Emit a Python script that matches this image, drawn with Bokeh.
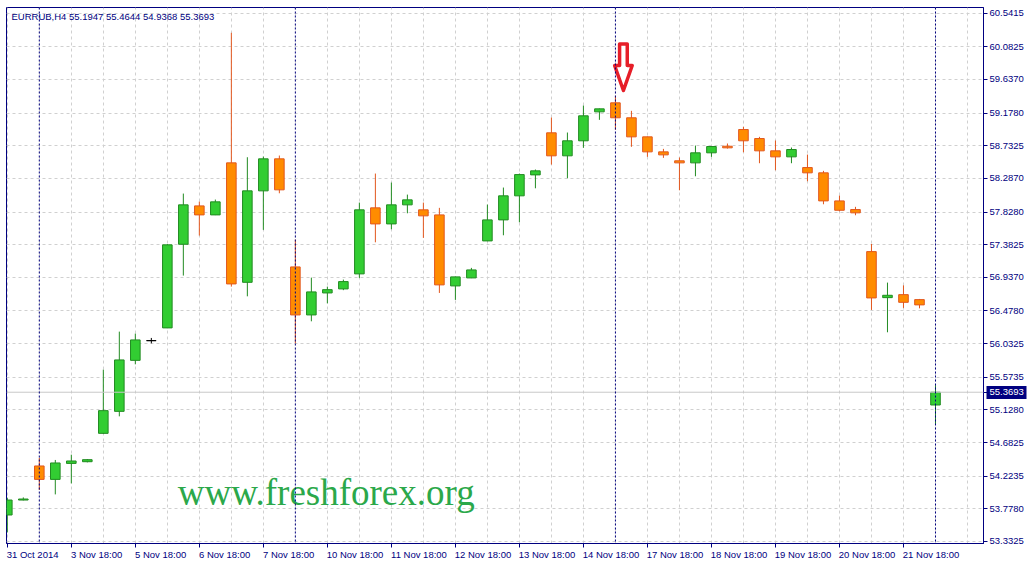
from bokeh.plotting import figure
from bokeh.models import (Range1d, FixedTicker, Span, ColumnDataSource,
                          PrintfTickFormatter, LinearAxis)
from bokeh.embed import file_html
from bokeh.resources import INLINE
from bokeh.core.properties import value

# ---- data (EURRUB, H4) ----
opens = [53.694, 53.898, 54.363, 54.180, 54.398, 54.421, 54.808, 55.108, 55.804, 56.073,
         56.247, 57.388, 57.912, 57.789, 58.499, 56.869, 58.117, 58.554, 57.079, 56.424,
         56.724, 56.779, 56.984, 57.885, 57.666, 57.926, 57.858, 57.789, 56.820, 56.929,
         57.434, 57.721, 58.049, 58.335, 58.909, 58.595, 58.800, 59.195, 59.318, 59.114,
         58.854, 58.649, 58.527, 58.499, 58.636, 58.726, 58.954, 58.831, 58.663, 58.581,
         58.435, 58.363, 57.980, 57.862, 57.288, 56.660, 56.701, 56.633, 55.1947]
highs = [53.930, 53.934, 54.472, 54.445, 54.517, 54.458, 55.677, 56.196, 56.169, 56.110,
         57.391, 58.080, 57.971, 57.998, 60.274, 58.576, 58.585, 58.599, 57.452, 56.933,
         56.810, 56.906, 57.957, 58.353, 58.230, 58.066, 57.957, 57.885, 56.947, 57.066,
         57.930, 58.162, 58.353, 58.408, 59.118, 58.913, 59.281, 59.240, 59.414, 59.209,
         58.858, 58.690, 58.572, 58.735, 58.725, 58.763, 58.991, 58.854, 58.804, 58.708,
         58.612, 58.390, 58.053, 57.899, 57.393, 56.865, 56.828, 56.642, 55.4644]
lows = [53.456, 53.893, 54.035, 53.975, 54.125, 54.412, 54.804, 55.040, 55.750, 56.036,
        56.244, 56.961, 57.507, 57.786, 56.810, 56.678, 57.585, 58.084, 56.036, 56.337,
        56.582, 56.762, 56.929, 57.415, 57.593, 57.811, 57.475, 56.724, 56.629, 56.926,
        57.431, 57.511, 57.688, 58.152, 58.476, 58.289, 58.704, 59.086, 58.950, 58.718,
        58.581, 58.567, 58.125, 58.316, 58.581, 58.694, 58.644, 58.494, 58.398, 58.494,
        58.248, 57.934, 57.838, 57.784, 56.492, 56.187, 56.520, 56.514, 54.9368]
closes = [53.898, 53.912, 54.180, 54.404, 54.431, 54.449, 55.118, 55.810, 56.083, 56.073,
          57.380, 57.926, 57.789, 57.967, 56.847, 58.117, 58.554, 58.131, 56.424, 56.738,
          56.769, 56.879, 57.858, 57.666, 57.926, 57.994, 57.776, 56.834, 56.943, 57.038,
          57.721, 58.049, 58.339, 58.390, 58.595, 58.800, 59.141, 59.236, 59.114, 58.854,
          58.649, 58.608, 58.499, 58.636, 58.722, 58.704, 58.800, 58.663, 58.581, 58.681,
          58.363, 57.980, 57.852, 57.817, 56.656, 56.692, 56.596, 56.561, 55.3693]

x_tick_bars = [0, 4, 8, 12, 16, 20, 24, 28, 32, 36, 40, 44, 48, 52, 56]
x_tick_labels = ["31 Oct 2014", "3 Nov 18:00", "5 Nov 18:00", "6 Nov 18:00", "7 Nov 18:00",
                 "10 Nov 18:00", "11 Nov 18:00", "12 Nov 18:00", "13 Nov 18:00", "14 Nov 18:00",
                 "17 Nov 18:00", "18 Nov 18:00", "19 Nov 18:00", "20 Nov 18:00", "21 Nov 18:00"]
y_ticks = [53.3325, 53.7780, 54.2235, 54.6825, 55.1280, 55.5735, 56.0325, 56.4780, 56.9370,
           57.3825, 57.8280, 58.2870, 58.7325, 59.1780, 59.6370, 60.0825, 60.5415]
week_starts = [2, 18, 38, 58]
symbol = "EURRUB,H4"
watermark = "www.freshforex.org"
watermark_pos = (10.65, 54.0)
signal_bar = 38.5          # bar where the red "sell" arrow is drawn
signal_top, signal_neck, signal_tip = 60.121, 59.827, 59.486

X_START, X_END = -0.05, 61.0
Y_START, Y_END = 53.305, 60.619

W, H = 1027, 563
LEFT, TOP, RIGHT, BOTTOM = 6, 7, 44, 20
FRAME_W, FRAME_H = W - LEFT - RIGHT, H - TOP - BOTTOM
BAR_PX = FRAME_W / (X_END - X_START)

NAVY = "#000080"
UP_FILL, UP_LINE = "#32CD32", "#228B22"
DN_FILL, DN_LINE = "#FF8C00", "#E2571E"
FONT = "Liberation Sans"

idx = list(range(len(opens)))
fills, lines = [], []
for o, c in zip(opens, closes):
    if c > o:
        fills.append(UP_FILL); lines.append(UP_LINE)
    elif c < o:
        fills.append(DN_FILL); lines.append(DN_LINE)
    else:
        fills.append("black"); lines.append("black")

src = ColumnDataSource(dict(
    x=idx, high=highs, low=lows,
    top=[max(o, c) for o, c in zip(opens, closes)],
    bottom=[min(o, c) for o, c in zip(opens, closes)],
    fill=fills, line=lines))

p = figure(width=W, height=H, output_backend="svg", toolbar_location=None,
           x_range=Range1d(X_START, X_END), y_range=Range1d(Y_START, Y_END),
           y_axis_location="right", min_border_left=LEFT, min_border_top=TOP,
           min_border_right=RIGHT, min_border_bottom=BOTTOM)
p.background_fill_color = "white"
p.border_fill_color = "white"
p.outline_line_color = NAVY
p.outline_line_width = 1

# grids
p.xgrid.ticker = FixedTicker(ticks=list(range(0, 62, 2)))
p.ygrid.ticker = FixedTicker(ticks=y_ticks)
for g in (p.xgrid, p.ygrid):
    g.grid_line_color = "#D0D0D0"
    g.grid_line_dash = "3 3"
    g.grid_line_width = 1

# x axis: tick marks at the bar, labels start at the tick (left aligned)
ax = p.xaxis[0]
ax.ticker = FixedTicker(ticks=x_tick_bars)
ax.major_label_overrides = {b: "" for b in x_tick_bars}
ax.major_label_standoff = 0
char_px = 4.6
label_pos = [b + len(t) * char_px / 2 / BAR_PX for b, t in zip(x_tick_bars, x_tick_labels)]
ax2 = LinearAxis(ticker=FixedTicker(ticks=label_pos),
                 major_label_overrides={pos: t for pos, t in zip(label_pos, x_tick_labels)})
ax2.axis_line_color = None
ax2.major_tick_line_color = None
ax2.major_tick_in = 0
ax2.major_tick_out = 0
ax2.minor_tick_line_color = None
ax2.major_label_standoff = 1
p.add_layout(ax2, "below")

# price axis, with the last price also marked on it
ay = p.yaxis[0]
ay.ticker = FixedTicker(ticks=y_ticks + [closes[-1]])
ay.formatter = PrintfTickFormatter(format="%.4f")
for a in (ax, ay):
    a.axis_line_color = NAVY
    a.major_tick_line_color = NAVY
    a.major_tick_in = 0
    a.major_tick_out = 4
    a.minor_tick_line_color = None
for a in (ax, ax2, ay):
    a.major_label_text_color = NAVY
    a.major_label_text_font = FONT
    a.major_label_text_font_size = "9.5px"
ay.major_label_standoff = 2

# last-price tag: a second price axis whose single thick tick forms the navy box
tag = LinearAxis(ticker=FixedTicker(ticks=[closes[-1]]),
                 formatter=PrintfTickFormatter(format="%.4f"))
tag.axis_line_color = None
tag.minor_tick_line_color = None
tag.major_tick_line_color = NAVY
tag.major_tick_line_width = 13
tag.major_tick_out = 0
tag.major_tick_in = 40
tag.major_label_standoff = -37
tag.major_label_text_color = "white"
tag.major_label_text_font = FONT
tag.major_label_text_font_size = "9.5px"
p.add_layout(tag, "right")

# current price line
p.add_layout(Span(location=closes[-1], dimension="width", line_color="#C8C8C8", line_width=1))
# period separators
for w in week_starts:
    p.add_layout(Span(location=w, dimension="height", line_color=NAVY,
                      line_dash="2 2", line_width=1))

# candles
p.segment(x0="x", y0="low", x1="x", y1="high", line_color="line", line_width=1, source=src)
p.vbar(x="x", width=0.6, top="top", bottom="bottom", fill_color="fill",
       line_color="line", line_width=1, source=src)

# watermark
p.text(x=[watermark_pos[0]], y=[watermark_pos[1]], text=[watermark],
       text_font=value("Liberation Serif"), text_font_size="37px", text_color="#2BA84A",
       text_baseline="alphabetic")

# signal arrow
sw, hw = 0.24, 0.55
ax_pts = [signal_bar - sw, signal_bar + sw, signal_bar + sw, signal_bar + hw,
          signal_bar, signal_bar - hw, signal_bar - sw]
ay_pts = [signal_top, signal_top, signal_neck, signal_neck, signal_tip, signal_neck, signal_neck]
p.patch(ax_pts, ay_pts, fill_color="white", line_color="#E61E28", line_width=3.5,
        line_join="round")

# header
header = "%s  %.4f %.4f %.4f %.4f" % (symbol, opens[-1], highs[-1], lows[-1], closes[-1])
p.text(x=[X_START], y=[Y_END], text=[header], x_offset=5, y_offset=3,
       text_font=value(FONT), text_font_size="9.5px", text_color=NAVY,
       text_baseline="top")

open("out.html", "w").write(file_html(p, INLINE))
